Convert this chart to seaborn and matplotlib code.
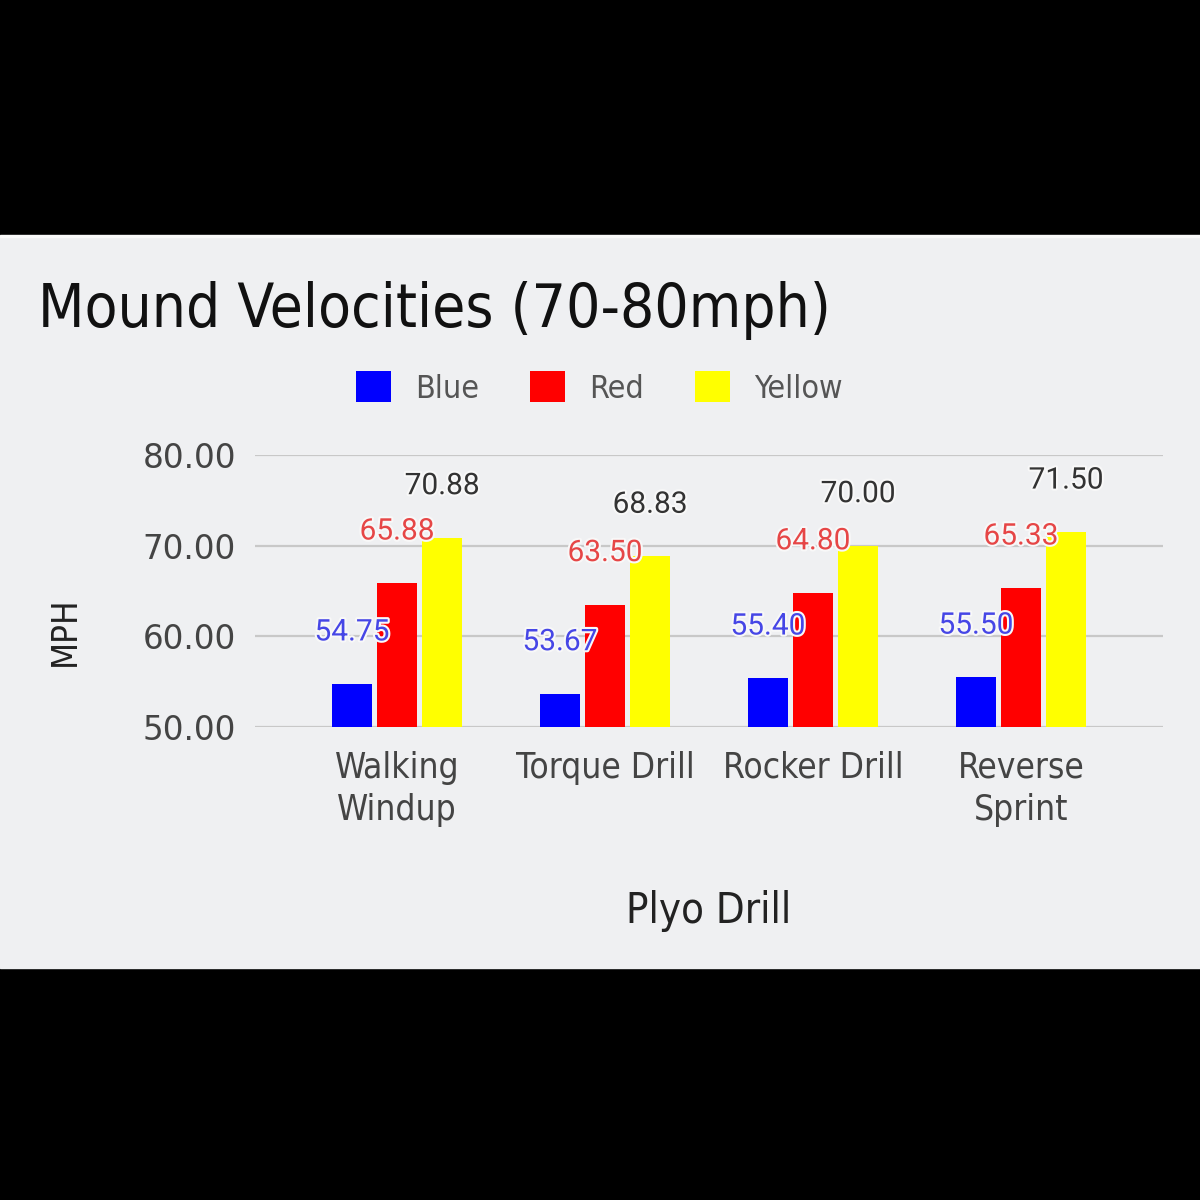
import pandas as pd
import matplotlib.pyplot as plt
import seaborn as sns
from matplotlib import font_manager as fm
from matplotlib.patches import Rectangle
import matplotlib.patheffects as pe

# Data
drills = ['Walking\nWindup', 'Torque Drill', 'Rocker Drill', 'Reverse\nSprint']
series = ['Blue', 'Red', 'Yellow']
blue = [54.75, 53.67, 55.40, 55.50]
red = [65.88, 63.50, 64.80, 65.33]
yellow = [70.88, 68.83, 70.00, 71.50]
yticks = [50, 60, 70, 80]

bar_colors = ['#0000ff', '#ff0000', '#ffff00']
label_colors = ['#4646e6', '#e64646', '#333333']
panel = '#eff0f2'

df = pd.DataFrame({
    'drill': drills * 3,
    'series': [s for s in series for _ in drills],
    'mph': blue + red + yellow,
})

sns.set_theme(style='white')
plt.rcParams['font.family'] = ['DejaVu Sans']

# use the condensed cut of DejaVu if it is installed
path = fm.findfont(fm.FontProperties(family='DejaVu Sans', stretch='condensed'))
cond = 'Condensed' in path
stretch = 'condensed' if cond else 'normal'

fig = plt.figure(figsize=(12, 12), dpi=100, facecolor='black')
fig.patches.append(Rectangle((0, 1 - 968 / 1200), 1, (968 - 236) / 1200,
                             transform=fig.transFigure, color=panel, zorder=-2))
fig.patches.append(Rectangle((0, 1 - 237 / 1200), 1, 2 / 1200,
                             transform=fig.transFigure, color='#fafafa', zorder=-2))

ax = fig.add_axes([255 / 1200, 1 - 727 / 1200, 908 / 1200, 272 / 1200])
ax.set_facecolor('none')

sns.barplot(data=df, x='drill', y='mph', hue='series', palette=bar_colors,
            width=0.65, gap=0.1, ax=ax, saturation=1, linewidth=0, legend=True)

ax.set_ylim(50, 80)
ax.set_xlim(-0.683, 3.683)
ax.set_yticks(yticks)
ax.set_yticklabels([f'{v:.2f}' for v in yticks])
ax.yaxis.grid(True, color='#c8c8c8', linewidth=1.6)
ax.set_axisbelow(True)
sns.despine(ax=ax, left=True, bottom=True)
ax.tick_params(axis='both', length=0)
ax.tick_params(axis='y', pad=13.7, labelsize=23.5, labelcolor='#444444')
ax.tick_params(axis='x', pad=17, labelcolor='#444444')
for t in ax.get_xticklabels():
    t.set_fontsize(25.3 if cond else 21)
    t.set_fontstretch(stretch)
    t.set_linespacing(1.3)
ax.set_xlabel('')
ax.set_ylabel('')

for cont, col in zip(ax.containers, label_colors):
    texts = ax.bar_label(cont, fmt='%.2f', padding=27, color=col,
                         fontsize=21.5, family=['Roboto', 'DejaVu Sans'])
    for t in texts:
        t.set_path_effects([pe.withStroke(linewidth=3, foreground='#f8f8f8')])

sns.move_legend(ax, 'center', bbox_to_anchor=(599 / 1200, 1 - 388 / 1200),
                bbox_transform=fig.transFigure, ncol=3, frameon=False, title=None,
                fontsize=23 if cond else 21.5, handlelength=1.1, handleheight=1.1,
                handletextpad=0.75, columnspacing=1.6)
for t in ax.get_legend().get_texts():
    t.set_color('#555555')
    t.set_fontstretch(stretch)

fig.text(38 / 1200, 1 - 311 / 1200, 'Mound Velocities (70-80mph)', ha='left', va='center',
         fontsize=43.2 if cond else 38.5, color='#111111', fontstretch=stretch)
fig.text(65 / 1200, 1 - 631 / 1200, 'MPH', rotation=90, ha='center', va='center',
         fontsize=25 if cond else 23, color='#222222', fontstretch=stretch)
fig.text(709 / 1200, 1 - 911 / 1200, 'Plyo Drill', ha='center', va='center',
         fontsize=30 if cond else 27, color='#222222', fontstretch=stretch)

fig.savefig('out.png', dpi=100, facecolor='black')
